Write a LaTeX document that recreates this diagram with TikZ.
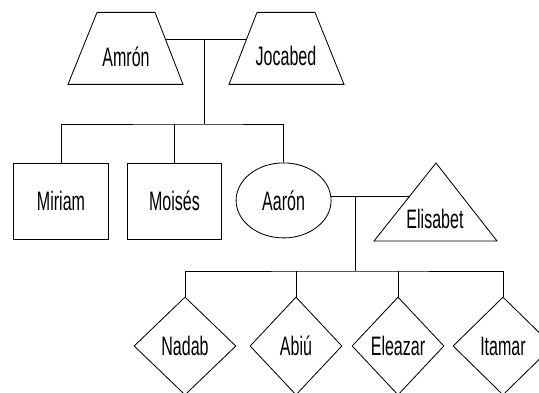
\documentclass[tikz,border=0pt]{standalone}
\usepackage{fontspec}
\setmainfont{Liberation Sans}[FakeStretch=0.6]
\usetikzlibrary{shapes.geometric}

\begin{document}
\begin{tikzpicture}[line width=0.6pt,
                    every node/.style={font=\fontsize{19pt}{23pt}\selectfont},
                    caja/.style={rectangle,draw,minimum width=2.36cm,minimum height=1.9cm},
                    elip/.style={ellipse,draw,minimum width=2.375cm,minimum height=1.875cm},
                    rombo/.style={diamond,draw,minimum width=2.3cm,minimum height=2.45cm,inner sep=0pt}]
                        \useasboundingbox (0,0) rectangle (13.475,9.8);
                        \clip (0,0) rectangle (13.475,9.8);
                        % Padres
                        \node (amron) at (3.15,8.39) {Amrón};
                        \draw (2.425,9.49) -- (3.875,9.49) -- (4.575,7.69) -- (1.7,7.69) -- cycle;
                        \node (jocabed) at (7.15,8.39) {Jocabed};
                        \draw (6.425,9.49) -- (7.875,9.49) -- (8.6,7.69) -- (5.725,7.69) -- cycle;
                        \coordinate (amrone) at (4.135,8.825);
                        \coordinate (jocabedw) at (6.165,8.825);
                        \coordinate (m1) at (5.1,8.825);
                        \coordinate (hijos1) at (5.1,6.7);
                        % Hijos
                        \draw (1.525,4.775) node[caja] (miriam) {Miriam};
                        \draw (4.36,4.775) node[caja] (moises) {Moisés};
                        \draw (7.09,4.79) node[elip] (aaron) {Aarón};
                        % Elisabet
                        \node (elisabet) at (10.875,4.325) {Elisabet};
                        \draw (9.35,3.775) -- (10.9,5.725) -- (12.425,3.775) -- cycle;
                        \coordinate (eliw) at (10.225,4.875);
                        \coordinate (hijos2) at (8.89,3.025);
                        % Nietos
                        \draw (4.625,1.15) node[rombo,minimum width=2.55cm] (nadab) {Nadab};
                        \draw (7.4,1.15) node[rombo] (abiu) {Abiú};
                        \draw (9.95,1.15) node[rombo] (eleazar) {Eleazar};
                        \draw (12.575,1.15) node[rombo,minimum width=2.5cm] (itamar) {Itamar};
                        % links
                        \draw (amrone) -- (jocabedw);
                        \draw (m1) -- (hijos1);
                        \draw (miriam.north) |- (hijos1) -| (aaron.north);
                        \draw (moises.north) -- (moises.north |- hijos1);
                        \draw (aaron.5) -- (aaron.5 -| eliw);
                        \draw (hijos2) -- (hijos2 |- aaron.5);
                        \draw (nadab.north) |- (hijos2) -| (itamar.north);
                        \draw (abiu.north) -- (abiu.north |- hijos2);
                        \draw (eleazar.north) -- (eleazar.north |- hijos2);
                    \end{tikzpicture}
\end{document}
